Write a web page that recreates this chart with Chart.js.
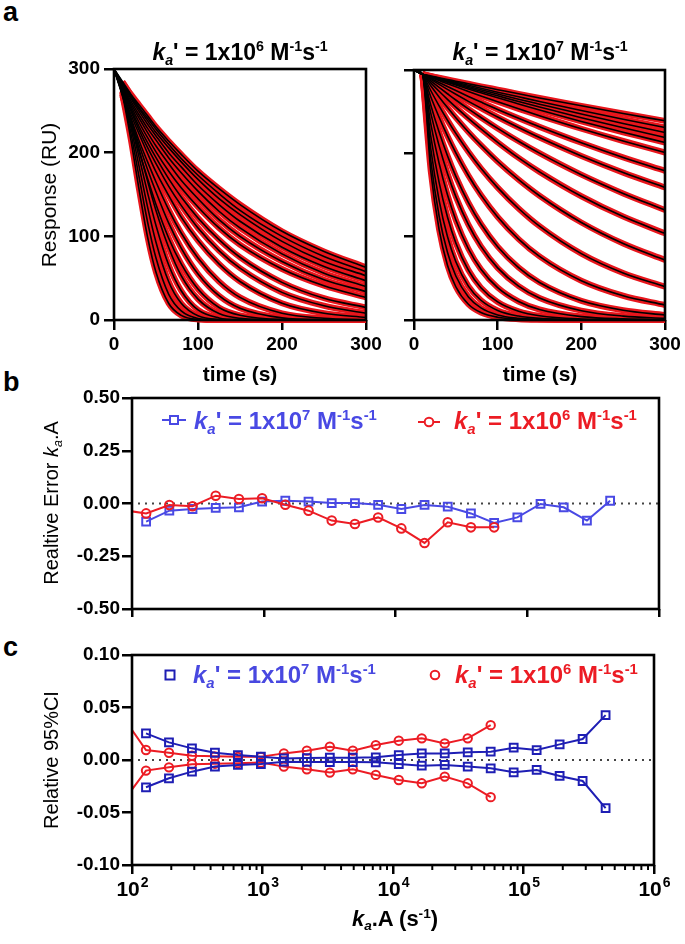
<!DOCTYPE html>
<html>
<head>
<meta charset="utf-8">
<script src="https://cdn.jsdelivr.net/npm/chart.js@4.4.1/dist/chart.umd.min.js"></script>
<style>
html,body{margin:0;padding:0;background:#fff;}
#wrap{position:relative;width:685px;height:944px;overflow:hidden;background:#fff;font-family:'Liberation Sans',Arial,Helvetica,sans-serif;color:#000;}
#wrap canvas{position:absolute;}
.t{position:absolute;white-space:nowrap;line-height:1;}
.pl{font-weight:bold;font-size:27px;}
.b{font-weight:bold;}
.c{transform:translateX(-50%);}
.rot{transform:translate(-50%,-50%) rotate(-90deg);font-size:20px;}
sup,sub{font-size:62%;line-height:0;position:relative;vertical-align:baseline;}
sup{top:-0.62em;}
sub{top:0.32em;}
</style>
</head>
<body>
<div id="wrap">
  <canvas id="ca1"></canvas>
  <canvas id="ca2"></canvas>
  <canvas id="cb"></canvas>
  <canvas id="cc"></canvas>

  <div class="t pl" style="left:3px;top:-1px">a</div>
  <div class="t pl" style="left:3px;top:369px">b</div>
  <div class="t pl" style="left:3px;top:634px">c</div>

  <div class="t b c" style="left:240px;top:41px;font-size:23px"><i>k<sub>a</sub></i>' = 1x10<sup>6</sup> M<sup>-1</sup>s<sup>-1</sup></div>
  <div class="t b c" style="left:540px;top:41px;font-size:23px"><i>k<sub>a</sub></i>' = 1x10<sup>7</sup> M<sup>-1</sup>s<sup>-1</sup></div>
  <div class="t b c" style="left:240px;top:363px;font-size:21px">time (s)</div>
  <div class="t b c" style="left:540px;top:363px;font-size:21px">time (s)</div>
  <div class="t rot" style="left:48px;top:195px;font-size:21px">Response (RU)</div>
  <div class="t rot" style="left:51px;top:503px">Realtive Error <i>k<sub>a</sub></i>.A</div>
  <div class="t rot" style="left:51px;top:760px">Relative 95%CI</div>
  <div class="t b c" style="left:395px;top:908px;font-size:22px"><i>k<sub>a</sub></i>.A (s<sup>-1</sup>)</div>

  <svg class="t" style="left:162px;top:412px" width="24" height="16"><line x1="0" y1="8" x2="24" y2="8" stroke="#4949e4" stroke-width="2"/><rect x="8" y="4" width="8" height="8" fill="#fff" stroke="#4949e4" stroke-width="2"/></svg>
  <div class="t b" style="left:194px;top:409px;font-size:24px;color:#4949e4"><i>k<sub>a</sub></i>' = 1x10<sup>7</sup> M<sup>-1</sup>s<sup>-1</sup></div>
  <svg class="t" style="left:418px;top:414px" width="22" height="16"><line x1="0" y1="8" x2="22" y2="8" stroke="#ec1c24" stroke-width="2"/><circle cx="11" cy="8" r="4.3" fill="#fff" stroke="#ec1c24" stroke-width="2"/></svg>
  <div class="t b" style="left:454px;top:409px;font-size:24px;color:#ec1c24"><i>k<sub>a</sub></i>' = 1x10<sup>6</sup> M<sup>-1</sup>s<sup>-1</sup></div>

  <svg class="t" style="left:164px;top:669px" width="12" height="12"><rect x="1.5" y="1.5" width="9" height="9" fill="none" stroke="#1e1eb4" stroke-width="2"/></svg>
  <div class="t b" style="left:193px;top:663px;font-size:24px;color:#4848e0"><i>k<sub>a</sub></i>' = 1x10<sup>7</sup> M<sup>-1</sup>s<sup>-1</sup></div>
  <svg class="t" style="left:429px;top:669px" width="12" height="12"><circle cx="6" cy="6" r="4.3" fill="none" stroke="#ec1c24" stroke-width="2"/></svg>
  <div class="t b" style="left:455px;top:663px;font-size:24px;color:#ec1c24"><i>k<sub>a</sub></i>' = 1x10<sup>6</sup> M<sup>-1</sup>s<sup>-1</sup></div>
</div>

<script>
// ---------------- DATA ----------------
// panel a: sample times (s) and response curves (RU)
const times = [0, 10, 20, 30, 40, 50, 65, 80, 100, 125, 150, 200, 250, 300];

const curvesKa6 = [
  [300,285,270,257,244,231,214,198,178,157,138,106,82,63],
  [300,284,269,254,241,228,210,193,173,151,131,100,76,58],
  [300,283,267,252,238,224,206,189,168,145,126,94,70,53],
  [300,282,265,249,234,220,200,183,161,138,118,87,64,47],
  [300,281,262,245,229,215,194,176,154,130,110,79,56,40],
  [300,279,259,241,224,208,187,167,145,120,100,70,48,34],
  [300,277,256,236,218,201,178,158,135,110,90,61,41,27],
  [300,275,253,231,212,194,169,147,122,96,75,45,26,15],
  [300,274,250,227,206,187,160,137,110,83,62,33,17,8],
  [300,272,246,222,199,177,149,123,95,67,46,20,8,3],
  [300,270,242,214,189,165,132,104,74,46,27,8,2,0],
  [300,270,239,209,180,153,116,86,55,29,14,2.5,0.3,0],
  [300,268,235,201,169,138,98,67,37,15,5.6,0.5,0,0],
  [300,272,239,203,166,131,87,53,25,7.7,2,0,0,0],
  [300,273,236,194,152,113,66,35,12,2.5,0.4,0,0,0],
  [300,273,231,183,135,93,46,20,5,0.6,0,0,0,0],
  [300,271,224,170,117,74,31,11,1.9,0,0,0,0,0],
  [300,269,216,155,99,57,20,5.5,0.7,0,0,0,0,0]
];

const curvesKa7 = [
  [300,295,292.9,290.7,288.6,286.6,283.5,280.4,276.4,271.4,266.5,257,247.8,239],
  [300,295,292.5,290.1,287.6,285.2,281.6,278.1,273.4,267.8,262.2,251.3,241,231],
  [300,295,292.3,289.5,286.9,284.2,280.2,276.3,271.2,265,259,247.1,235.8,225],
  [300,295,292,289,286,283.1,278.8,274.5,269,262.1,255.6,242.8,230.6,219],
  [300,295,291.7,288.4,285.2,282,277.3,272.7,266.6,259.3,252.1,238.3,225.3,213],
  [300,295,291.1,287.3,283.5,279.8,274.3,268.9,261.9,253.4,245.2,229.5,214.8,201],
  [300,295,290,285,280.1,275.4,268.3,261.5,252.6,242,231.8,212.7,195.1,179],
  [300,295,288.8,282.7,276.7,270.9,262.4,254.2,243.5,230.9,218.9,196.8,176.9,159],
  [300,295,286.9,279.1,271.5,264,253.3,243,229.9,214.5,200.2,174.4,151.9,132],
  [300,295,284.6,274.5,264.8,255.4,242,229.3,213.2,194.5,177.8,148.5,124.1,104],
  [300,295,281,267.7,254.9,242.8,225.7,209.8,190.2,168.4,149.1,117,91.8,72],
  [300,295,275.4,257,239.9,223.9,201.9,182,158.9,133.8,112.6,79.6,56.4,40],
  [300,295,267.9,243.3,220.9,200.6,173.4,149.9,123.6,97.1,76.3,47.1,29.1,18],
  [300,295,258,225.5,197.2,172.4,140.9,115.2,88,62.9,45,23,11.7,6],
  [300,295,248.3,209,175.9,148.1,114.4,88.3,62.5,40.6,26.4,11.2,4.7,2],
  [300,295,235.6,188.1,150.2,119.9,85.5,61,38.9,22.2,12.6,4.1,1.3,0.4],
  [300,295,220.7,165.1,123.6,92.5,59.9,38.8,21.7,10.5,5.1,1.2,0.3,0],
  [300,295,205.8,143.6,100.2,69.9,40.7,23.7,11.5,4.7,1.9,0.3,0,0],
  [300,295,191.9,124.8,81.2,52.8,27.7,14.5,6.1,2.1,0.7,0,0,0],
  [300,295,178.9,108.5,65.8,39.9,18.9,8.9,3.3,0.9,0.3,0,0,0]
];

const aTicks = [0, 100, 200, 300];

// panels b and c: ka.A values (s^-1)
const kaA7 = [128, 192, 288, 432, 648, 972, 1458, 2187, 3281, 4921, 7382, 11073, 16610, 24915, 37372, 56058, 84088, 126131, 189197, 283795, 425693];
const kaA6 = [85, 128, 192, 288, 432, 648, 972, 1458, 2187, 3281, 4921, 7382, 11073, 16610, 24915, 37372, 56058];

// panel b: relative error
const errKa7 = [-0.086, -0.034, -0.026, -0.021, -0.018, 0.009, 0.013, 0.009, 0.002, 0.002, -0.006, -0.026, -0.007, -0.015, -0.047, -0.092, -0.066, -0.002, -0.018, -0.081, 0.013];
const errKa6 = [-0.031, -0.047, -0.007, -0.013, 0.037, 0.021, 0.025, -0.006, -0.034, -0.081, -0.097, -0.066, -0.118, -0.187, -0.089, -0.113, -0.113];

// panel c: relative 95% CI (upper / lower)
const ciUpKa7 = [0.0253, 0.0168, 0.0111, 0.0069, 0.0047, 0.0031, 0.0015, 0.0018, 0.0022, 0.0022, 0.0026, 0.0047, 0.0063, 0.0063, 0.0073, 0.0079, 0.0117, 0.0095, 0.0149, 0.0200, 0.0427];
const ciLoKa7 = [-0.0260, -0.0174, -0.0111, -0.0063, -0.0047, -0.0038, -0.0016, -0.0018, -0.0020, -0.0020, -0.0022, -0.0038, -0.0054, -0.0047, -0.0063, -0.0079, -0.0117, -0.0095, -0.0152, -0.0200, -0.0459];
const ciUpKa6 = [0.041, 0.0095, 0.0069, 0.0040, 0.0035, 0.0030, 0.0030, 0.0063, 0.0089, 0.0127, 0.0089, 0.0142, 0.0184, 0.0206, 0.0158, 0.0206, 0.0332];
const ciLoKa6 = [-0.040, -0.0101, -0.0070, -0.0040, -0.0035, -0.0030, -0.0025, -0.0063, -0.0089, -0.0120, -0.0089, -0.0142, -0.0190, -0.0222, -0.0158, -0.0222, -0.0354];

const logMajor = [100, 1000, 10000, 100000, 1000000];
const logExp = ['2', '3', '4', '5', '6'];
const bYTicks = [-0.5, -0.25, 0, 0.25, 0.5];
const bYLabels = ['-0.50', '-0.25', '0.00', '0.25', '0.50'];
const cYTicks = [-0.1, -0.05, 0, 0.05, 0.1];
const cYLabels = ['-0.10', '-0.05', '0.00', '0.05', '0.10'];

// ---------------- STYLE / HELPERS ----------------
const FONT = "'Liberation Sans', Arial, Helvetica, sans-serif";
const RED = '#e8161c', RED2 = '#ec1c24', BLUE_B = '#4949e4', BLUE_C = '#1e1eb4';
const P = 20;

function place(id, L, T, R, B, yw, xh) {
  const cv = document.getElementById(id);
  const cx = L - yw - P, cy = T - P, cw = R + P - cx, ch = B + xh + P - cy;
  cv.width = cw; cv.height = ch;
  cv.style.left = cx + 'px'; cv.style.top = cy + 'px';
  cv.style.width = cw + 'px'; cv.style.height = ch + 'px';
  return cv;
}
function zeroPad(s) { s.paddingLeft = 0; s.paddingRight = 0; s.paddingTop = 0; s.paddingBottom = 0; }
function fixW(w) { return s => { s.width = w; zeroPad(s); }; }
function fixH(h) { return s => { s.height = h; zeroPad(s); }; }
function grid(len) {
  return { display: true, drawOnChartArea: false, drawTicks: true, tickLength: len, tickWidth: 2.5, tickColor: '#000', color: '#000', lineWidth: 2.5 };
}
function tickFont(sz) { return { family: FONT, size: sz, weight: 'bold' }; }
function setTicks(arr) { return s => { s.ticks = arr.map(v => ({ value: v })); }; }

const framePlugin = {
  id: 'frame',
  afterDatasetsDraw(chart) {
    const { ctx, chartArea: a } = chart;
    ctx.save(); ctx.strokeStyle = '#000'; ctx.lineWidth = 2.6;
    ctx.strokeRect(a.left, a.top, a.right - a.left, a.bottom - a.top);
    ctx.restore();
  }
};
const zeroPlugin = {
  id: 'zero',
  beforeDatasetsDraw(chart) {
    const { ctx, chartArea: a } = chart;
    const y = chart.scales.y.getPixelForValue(0);
    ctx.save(); ctx.strokeStyle = '#444'; ctx.lineWidth = 1.8; ctx.setLineDash([2, 5]);
    ctx.beginPath(); ctx.moveTo(a.left + 6, y); ctx.lineTo(a.right, y); ctx.stroke();
    ctx.restore();
  }
};
const logLabelPlugin = {
  id: 'logLabels',
  afterDraw(chart) {
    const { ctx, chartArea: a } = chart;
    const xs = chart.scales.x;
    ctx.save(); ctx.fillStyle = '#000'; ctx.textAlign = 'left'; ctx.textBaseline = 'alphabetic';
    ctx.strokeStyle = '#000'; ctx.lineWidth = 2;
    for (let d = 0; d < logMajor.length - 1; d++) {
      for (let m = 2; m <= 9; m++) {
        const px = xs.getPixelForValue(logMajor[d] * m);
        ctx.beginPath(); ctx.moveTo(px, a.bottom); ctx.lineTo(px, a.bottom + 5); ctx.stroke();
      }
    }
    logMajor.forEach((v, i) => {
      const px = xs.getPixelForValue(v);
      ctx.font = 'bold 21px ' + FONT;
      const w1 = ctx.measureText('10').width;
      ctx.font = 'bold 14px ' + FONT;
      const w2 = ctx.measureText(logExp[i]).width;
      const sx = px - (w1 + w2) / 2;
      ctx.font = 'bold 21px ' + FONT;
      ctx.fillText('10', sx, a.bottom + 31);
      ctx.font = 'bold 14px ' + FONT;
      ctx.fillText(logExp[i], sx + w1 + 1, a.bottom + 22);
    });
    ctx.restore();
  }
};

function baseOptions(xs, ys) {
  return {
    responsive: false, maintainAspectRatio: false, animation: false, events: [],
    layout: { padding: P, autoPadding: false },
    plugins: { legend: { display: false }, tooltip: { enabled: false }, title: { display: false } },
    scales: { x: xs, y: ys }
  };
}

// ---------------- PANEL A ----------------
function curveDatasets(curves) {
  const ds = [];
  curves.forEach(c => {
    ds.push({
      data: times.map((t, i) => ({ x: t, y: c[i] })).slice(1),
      borderColor: RED, borderWidth: 6, pointRadius: 0, cubicInterpolationMode: 'monotone',
      fill: false, order: 2, clip: 4
    });
  });
  curves.forEach(c => {
    ds.push({
      data: times.map((t, i) => ({ x: t, y: c[i] })),
      borderColor: '#000', borderWidth: 1.6, pointRadius: 0, cubicInterpolationMode: 'monotone',
      fill: false, order: 1, clip: 2
    });
  });
  return ds;
}
function panelA(id, curves, L, T, R, B, showY) {
  const yw = showY ? 60 : 15;
  const cv = place(id, L, T, R, B, yw, 40);
  const xs = {
    type: 'linear', min: 0, max: 300, afterBuildTicks: setTicks(aTicks),
    grid: grid(10), border: { display: false },
    ticks: { color: '#000', font: tickFont(19), padding: 3, maxRotation: 0, autoSkip: false },
    afterFit: fixH(40)
  };
  const ys = {
    type: 'linear', min: 0, max: 300, afterBuildTicks: setTicks(aTicks),
    grid: grid(10), border: { display: false },
    ticks: { color: '#000', font: tickFont(19), padding: 4, autoSkip: false,
             callback: (v) => showY ? String(v) : '' },
    afterFit: fixW(yw)
  };
  new Chart(cv, { type: 'line', data: { datasets: curveDatasets(curves) }, options: baseOptions(xs, ys), plugins: [framePlugin] });
}
panelA('ca1', curvesKa6, 114, 69, 366, 320, true);
panelA('ca2', curvesKa7, 414, 70, 665, 320, false);

// ---------------- PANEL B ----------------
(function () {
  const cv = place('cb', 132, 398, 659, 609, 60, 12);
  const xs = {
    type: 'logarithmic', min: 100, max: 1000000, afterBuildTicks: setTicks(logMajor),
    grid: grid(8), border: { display: false },
    ticks: { callback: () => '', autoSkip: false }, afterFit: fixH(12)
  };
  const ys = {
    type: 'linear', min: -0.5, max: 0.5, afterBuildTicks: setTicks(bYTicks),
    grid: grid(10), border: { display: false },
    ticks: { color: '#000', font: tickFont(19), padding: 2, autoSkip: false, callback: (v, i) => bYLabels[i] },
    afterFit: fixW(60)
  };
  const datasets = [
    { data: kaA7.map((x, i) => ({ x, y: errKa7[i] })), borderColor: BLUE_B, borderWidth: 2,
      pointStyle: 'rect', pointRadius: 5.5, pointBorderWidth: 2, pointBorderColor: BLUE_B,
      pointBackgroundColor: 'rgba(255,255,255,0)', tension: 0, order: 2 },
    { data: kaA6.map((x, i) => ({ x, y: errKa6[i] })), borderColor: RED2, borderWidth: 2,
      pointStyle: 'circle', pointRadius: 4.3, pointBorderWidth: 2, pointBorderColor: RED2,
      pointBackgroundColor: 'rgba(255,255,255,0)', tension: 0, order: 1 }
  ];
  new Chart(cv, { type: 'line', data: { datasets }, options: baseOptions(xs, ys), plugins: [zeroPlugin, framePlugin] });
})();

// ---------------- PANEL C ----------------
(function () {
  const cv = place('cc', 132, 655, 654, 865, 60, 45);
  const xs = {
    type: 'logarithmic', min: 100, max: 1000000, afterBuildTicks: setTicks(logMajor),
    grid: grid(9), border: { display: false },
    ticks: { callback: () => '', autoSkip: false }, afterFit: fixH(45)
  };
  const ys = {
    type: 'linear', min: -0.1, max: 0.1, afterBuildTicks: setTicks(cYTicks),
    grid: grid(10), border: { display: false },
    ticks: { color: '#000', font: tickFont(19), padding: 2, autoSkip: false, callback: (v, i) => cYLabels[i] },
    afterFit: fixW(60)
  };
  function blue(arr) {
    return { data: kaA7.map((x, i) => ({ x, y: arr[i] })), borderColor: BLUE_C, borderWidth: 2,
      pointStyle: 'rect', pointRadius: 5.5, pointBorderWidth: 2, pointBorderColor: BLUE_C,
      pointBackgroundColor: 'rgba(255,255,255,0)', tension: 0, order: 1 };
  }
  function red(arr) {
    return { data: kaA6.map((x, i) => ({ x, y: arr[i] })), borderColor: RED2, borderWidth: 2,
      pointStyle: 'circle', pointRadius: 4.2, pointBorderWidth: 2, pointBorderColor: RED2,
      pointBackgroundColor: 'rgba(255,255,255,0)', tension: 0, order: 2 };
  }
  const datasets = [blue(ciUpKa7), blue(ciLoKa7), red(ciUpKa6), red(ciLoKa6)];
  new Chart(cv, { type: 'line', data: { datasets }, options: baseOptions(xs, ys), plugins: [zeroPlugin, framePlugin, logLabelPlugin] });
})();
</script>
</body>
</html>
